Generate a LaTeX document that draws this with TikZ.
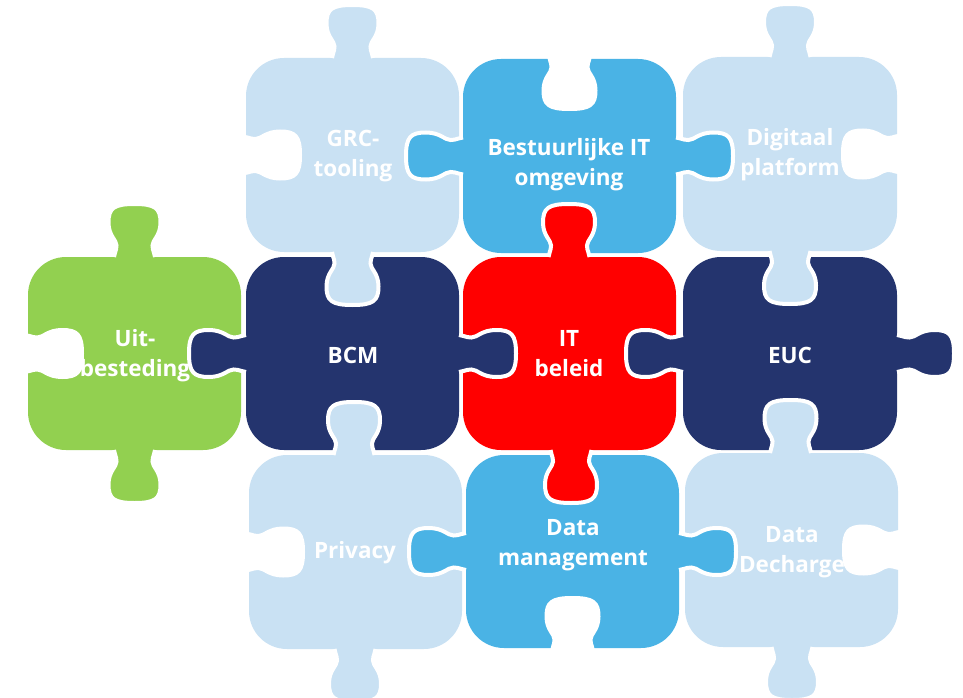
\documentclass[tikz,border=0pt]{standalone}
\usepackage{fontspec}
\setmainfont{Open Sans}

\definecolor{pzlight}{RGB}{201,225,243}
\definecolor{pzmid}{RGB}{74,179,229}
\definecolor{pznavy}{RGB}{36,52,110}
\definecolor{pzred}{RGB}{255,0,0}
\definecolor{pzgreen}{RGB}{146,208,80}

% one tab: centre x, centre y, angle, colour, base, neck, knob, height
\newcommand{\puzzletab}[8]{%
  \begin{scope}[shift={(#1,#2)},rotate=#3]
    \filldraw[fill=#4,draw=white,line width=4pt]
      (-#5,0) .. controls (-#5,0.08*#8) and (-#6,0.1*#8) .. (-#6,0.22*#8)
      .. controls (-#6,0.32*#8) and (-#7,0.4*#8) .. (-#7,0.65*#8)
      .. controls (-#7,0.92*#8) and (-0.8*#7,#8) .. (0,#8)
      .. controls (0.8*#7,#8) and (#7,0.92*#8) .. (#7,0.65*#8)
      .. controls (#7,0.4*#8) and (#6,0.32*#8) .. (#6,0.22*#8)
      .. controls (#6,0.1*#8) and (#5,0.08*#8) .. (#5,0);
  \end{scope}}
\newcommand{\vtab}[4]{\puzzletab{#1}{#2}{#3}{#4}{20.5}{18}{26}{53}}
\newcommand{\htab}[4]{\puzzletab{#1}{#2}{#3}{#4}{18.5}{16}{23.5}{57}}

\tikzset{
  lbl/.style={text=white,align=center,font=\fontsize{22.5}{30}\selectfont\bfseries},
}

\begin{document}
\begin{tikzpicture}[x=1pt,y=-1pt]
  \useasboundingbox (0,0) rectangle (963,698);

  % bodies
  \foreach \xa/\ya/\xb/\yb/\col in {
      246/58/459/252/pzlight, 463/59/676/253/pzmid, 683/57/897/251/pzlight,
      28/257/241/450/pzgreen, 246/257/459/450/pznavy, 463/257/676/450/pzred,
      683/257/897/450/pznavy,
      249/455/462/649/pzlight, 466/455/679/648/pzmid, 685/453/898/647/pzlight}
    \fill[\col,rounded corners=38pt] (\xa,\ya) rectangle (\xb,\yb);

  % tabs up and down
  \vtab{352.5}{58}{180}{pzlight}  \vtab{352.5}{252}{0}{pzlight}
  \vtab{790}{57}{180}{pzlight}    \vtab{790}{251}{0}{pzlight}
  \vtab{134.5}{257}{180}{pzgreen} \vtab{134.5}{450}{0}{pzgreen}
  \vtab{569}{257}{180}{pzred}     \vtab{571}{450}{0}{pzred}
  \vtab{354}{455}{180}{pzlight}   \vtab{355}{649}{0}{pzlight}
  \vtab{790.5}{453}{180}{pzlight} \vtab{792}{647}{0}{pzlight}

  % tabs left and right
  \htab{463}{156}{-90}{pzmid}     \htab{676}{156}{90}{pzmid}
  \htab{246}{353.5}{-90}{pznavy}  \htab{459}{353.5}{90}{pznavy}
  \htab{683}{353.5}{-90}{pznavy}  \htab{897}{353.5}{90}{pznavy}
  \htab{466}{551.5}{-90}{pzmid}   \htab{679}{551.5}{90}{pzmid}

  % open holes on the outside
  \htab{243}{155}{90}{white}      \htab{900}{154}{-90}{white}
  \htab{25}{353.5}{90}{white}     \htab{246}{552}{90}{white}
  \htab{901}{550}{-90}{white}
  \vtab{569.5}{56}{0}{white}      \vtab{572.5}{651}{180}{white}

  % labels
  \node[lbl] (grc)  at (353,156) {GRC-\\tooling};
  \node[lbl] (best) at (569,165) {Bestuurlijke IT\\omgeving};
  \node[lbl] (digi) at (790,155) {Digitaal\\platform};
  \node[lbl] (uit)  at (135,356) {Uit-\\besteding};
  \node[lbl] (bcm)  at (353,355) {BCM};
  \node[lbl] (it)   at (569,354) {IT\\beleid};
  \node[lbl] (euc)  at (790,355) {EUC};
  \node[lbl] (priv) at (355,553) {Privacy};
  \node[lbl] (dm)   at (573,545) {Data\\management};
  \node[lbl] (dd)   at (792,552) {Data\\Decharge};
\end{tikzpicture}
\end{document}
